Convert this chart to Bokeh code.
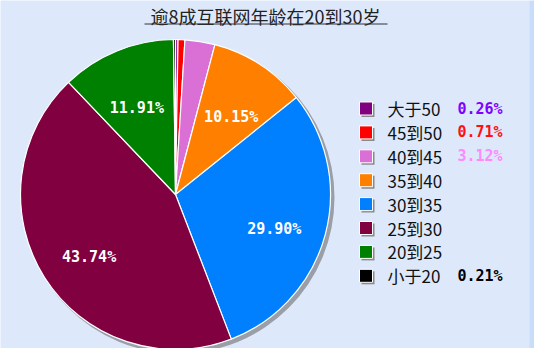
import numpy as np
from bokeh.plotting import figure
from bokeh.models import ColumnDataSource, Range1d
from bokeh.core.properties import value
from bokeh.embed import file_html
from bokeh.resources import INLINE

title = "逾8成互联网年龄在20到30岁"
categories = ["大于50", "45到50", "40到45", "35到40", "30到35", "25到30", "20到25", "小于20"]
shares = [0.26, 0.71, 3.12, 10.15, 29.90, 43.74, 11.91, 0.21]
colors = ["#800080", "#ff0000", "#da70d6", "#ff8000", "#0080ff", "#800040", "#008000", "#000000"]
legend_value_colors = ["#8000ff", "#ff1010", "#ff88ff", "#000000", "#000000", "#000000", "#000000", "#000000"]

W, H = 534, 348
p = figure(width=W, height=H, output_backend="svg", toolbar_location=None,
           x_range=Range1d(0, W), y_range=Range1d(0, H), min_border=0,
           background_fill_color="#dde9fb", border_fill_color="#dde9fb")
p.axis.visible = False
p.grid.visible = False
p.outline_line_color = None

# outer band on the right
p.quad(left=[529], right=[534], bottom=[0], top=[H], fill_color="#c8ddf9", line_color=None)

vals = np.array(shares)
frac = vals / vals.sum()
cum = np.concatenate([[0], np.cumsum(frac)])
a0 = np.pi / 2 - 2 * np.pi * cum[:-1]
a1 = np.pi / 2 - 2 * np.pi * cum[1:]
mid = (a0 + a1) / 2

cx, cy, R = 175, 154, 155
src = ColumnDataSource(dict(start=a1, end=a0, color=colors))

# shadow
p.wedge(x=cx + 3, y=cy - 3, radius=R + 1, start_angle=0, end_angle=2 * np.pi,
        fill_color="#9a9ea6", line_color=None)
p.wedge(x=cx, y=cy, radius=R, start_angle="start", end_angle="end", direction="anticlock",
        fill_color="color", line_color="white", line_width=1.2, source=src)

big = frac >= 0.10
lr = 0.66 * R
lab = ColumnDataSource(dict(
    x=cx + lr * np.cos(mid[big]),
    y=cy + lr * np.sin(mid[big]),
    t=[f"{v:.2f}%" for v in vals[big]],
))
p.text(x="x", y="y", text="t", source=lab, text_color="white", text_align="center",
       text_baseline="middle", y_offset=8, text_font=value("DejaVu Sans Mono"),
       text_font_style="bold", text_font_size="15px")

# title
p.text(x=[265], y=[333], text=[title], text_align="center", text_baseline="middle",
       text_font=value("Noto Sans CJK SC"), text_font_size="18px", text_color="#222222")
p.segment(x0=[144], y0=[324.5], x1=[387], y1=[324.5], line_color="#333333", line_width=1)

# legend
n = len(categories)
ly = 240 - 23.9 * np.arange(n)
lx = 365.5
p.rect(x=lx + 2, y=ly - 2, width=13, height=13, fill_color="#8a8a8a", line_color=None)
p.rect(x=lx, y=ly, width=13, height=13, fill_color=colors, line_color="white", line_width=1)
p.text(x=lx + 21.5, y=ly, text=categories, text_align="left", text_baseline="middle",
       text_font=value("Noto Sans CJK SC"), text_font_size="17px", text_color="#111111")
small = ~big
vsrc = ColumnDataSource(dict(
    x=np.full(small.sum(), 457.0),
    y=ly[small],
    t=[f"{v:.2f}%" for v in vals[small]],
    c=[c for c, s in zip(legend_value_colors, small) if s],
))
p.text(x="x", y="y", text="t", text_color="c", source=vsrc, text_align="left",
       text_baseline="middle", text_font=value("DejaVu Sans Mono"), text_font_style="bold",
       text_font_size="15px")

open("out.html", "w").write(file_html(p, INLINE))
